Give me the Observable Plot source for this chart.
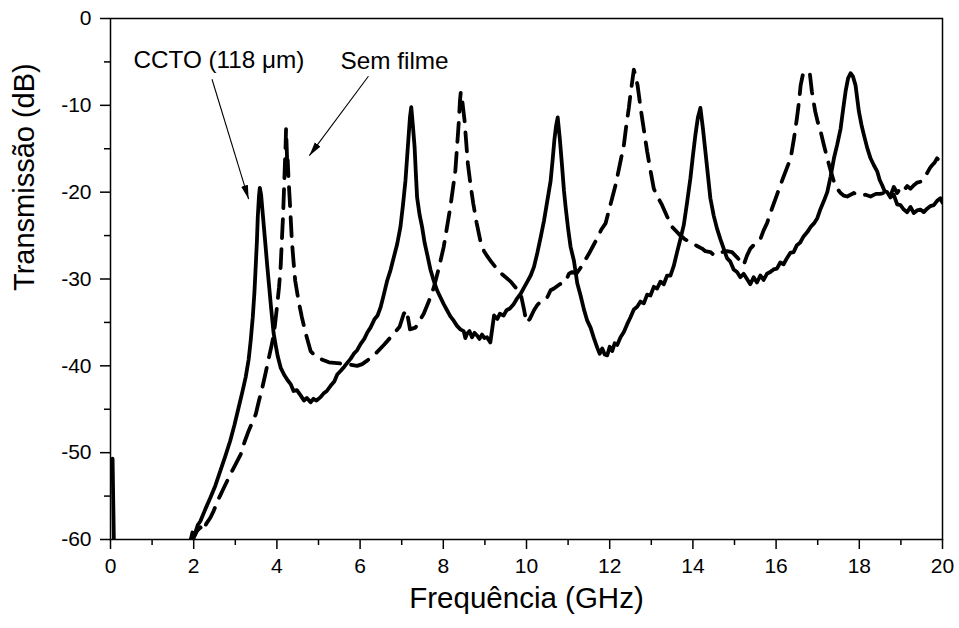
<!DOCTYPE html>
<html><head><meta charset="utf-8">
<script src="https://cdn.jsdelivr.net/npm/d3@7"></script>
<script src="https://cdn.jsdelivr.net/npm/@observablehq/plot@0.6"></script>
<style>body{margin:0;background:#fff}#chart{width:959px;height:628px}</style>
</head><body><div id="chart"></div>
<script>
// CCTO (118 µm) — solid line
const cctoFreq = [0.05,0.09,1.90,1.93,1.97,2.02,2.10,2.16,2.28,2.40,2.52,2.64,2.76,2.88,2.98,3.08,3.17,3.25,3.32,3.37,3.42,3.46,3.49,3.52,3.54,3.57,3.59,3.62,3.66,3.72,3.77,3.82,3.86,3.92,3.97,4.02,4.09,4.17,4.25,4.33,4.40,4.48,4.57,4.65,4.72,4.81,4.88,4.95,5.05,5.12,5.20,5.29,5.38,5.45,5.53,5.62,5.70,5.77,5.85,5.93,6.01,6.10,6.18,6.25,6.35,6.42,6.49,6.57,6.65,6.73,6.81,6.89,6.97,7.03,7.09,7.13,7.17,7.20,7.23,7.27,7.31,7.34,7.37,7.43,7.49,7.55,7.61,7.69,7.77,7.85,7.93,8.01,8.09,8.17,8.25,8.33,8.41,8.49,8.53,8.57,8.63,8.69,8.75,8.81,8.87,8.93,8.99,9.05,9.13,9.18,9.22,9.30,9.36,9.45,9.52,9.60,9.69,9.78,9.86,9.94,10.02,10.10,10.18,10.26,10.34,10.42,10.50,10.58,10.63,10.67,10.71,10.75,10.80,10.85,10.90,10.94,11.00,11.06,11.14,11.22,11.30,11.38,11.46,11.54,11.62,11.70,11.76,11.82,11.88,11.94,12.00,12.06,12.12,12.18,12.26,12.34,12.42,12.50,12.58,12.66,12.74,12.82,12.90,12.98,13.06,13.14,13.22,13.30,13.38,13.46,13.54,13.62,13.70,13.78,13.86,13.94,14.00,14.06,14.12,14.18,14.24,14.30,14.36,14.42,14.50,14.58,14.66,14.74,14.82,14.90,14.98,15.06,15.14,15.22,15.30,15.38,15.46,15.54,15.62,15.70,15.78,15.86,15.94,16.02,16.10,16.18,16.26,16.34,16.42,16.50,16.58,16.66,16.75,16.83,16.91,16.99,17.07,17.15,17.23,17.31,17.39,17.47,17.55,17.61,17.67,17.73,17.79,17.85,17.91,17.95,17.99,18.05,18.11,18.19,18.27,18.35,18.43,18.49,18.55,18.61,18.67,18.75,18.83,18.91,18.99,19.07,19.15,19.23,19.31,19.39,19.47,19.55,19.63,19.71,19.79,19.87,19.95,20.00];
const cctoDb = [-50.7,-63,-63,-60.0,-59.2,-59.5,-58.3,-57.9,-56.5,-55.2,-53.8,-52.1,-50.4,-48.6,-46.8,-44.8,-43.0,-41.3,-39.3,-37.1,-34.4,-31.5,-28.6,-25.6,-22.9,-20.4,-19.5,-20.3,-22.5,-25.8,-28.6,-31.2,-33.3,-36.2,-37.6,-38.9,-40.2,-41.0,-41.6,-42.1,-42.9,-42.8,-43.4,-44.0,-43.7,-44.2,-43.8,-44.0,-43.6,-43.2,-42.9,-42.3,-41.8,-41.0,-40.6,-40.1,-39.6,-39.2,-38.6,-38.2,-37.5,-36.9,-36.1,-35.6,-34.6,-34.2,-33.3,-31.8,-30.2,-29.0,-27.5,-26.0,-24.0,-21.5,-18.7,-16.0,-13.3,-11.3,-10.2,-12.4,-14.8,-17.8,-20.6,-22.6,-24.0,-25.8,-27.1,-28.9,-30.2,-31.3,-32.1,-32.9,-33.6,-34.3,-34.8,-35.4,-35.8,-36.0,-36.8,-36.3,-36.0,-36.7,-36.2,-36.5,-36.9,-36.4,-36.8,-36.7,-37.3,-35.6,-34.2,-34.6,-34.0,-34.2,-33.6,-33.4,-32.9,-32.2,-31.7,-31.0,-30.3,-29.6,-28.6,-27.0,-25.2,-23.3,-21.0,-18.7,-16.2,-14.0,-12.4,-11.4,-13.8,-16.7,-19.8,-21.7,-24.2,-26.3,-27.9,-30.5,-31.9,-33.5,-34.8,-35.6,-36.8,-37.9,-38.6,-38.0,-38.7,-38.8,-37.8,-38.3,-37.4,-37.6,-36.7,-36.1,-35.2,-34.4,-33.5,-33.2,-32.6,-32.8,-31.8,-31.9,-30.9,-31.1,-30.3,-30.6,-29.6,-29.6,-28.5,-26.9,-25.4,-23.8,-21.2,-18.4,-15.8,-13.4,-11.4,-10.3,-12.6,-15.3,-18.0,-20.7,-22.7,-24.2,-25.4,-26.5,-27.6,-28.0,-28.9,-29.2,-29.8,-29.4,-30.0,-30.6,-29.8,-30.4,-29.6,-30.1,-29.4,-29.2,-28.9,-28.8,-28.1,-28.3,-27.6,-27.0,-26.9,-26.1,-25.8,-25.1,-24.6,-24.0,-23.6,-23.0,-21.9,-21.0,-20.0,-18.2,-16.1,-14.5,-12.7,-10.5,-8.4,-6.9,-6.3,-6.7,-7.7,-9.2,-10.7,-12.2,-13.4,-14.9,-16.1,-16.9,-17.6,-18.6,-19.2,-19.9,-20.0,-20.6,-20.3,-21.4,-21.5,-22.0,-22.3,-21.7,-22.4,-22.1,-22.0,-22.3,-21.9,-21.6,-21.5,-21.0,-20.7,-21.2];

// Sem filme — dashed line
const semFreq = [1.98,2.00,2.08,2.16,2.24,2.30,2.40,2.48,2.60,2.74,2.88,3.00,3.13,3.22,3.32,3.40,3.49,3.57,3.65,3.73,3.81,3.87,3.93,4.00,4.05,4.09,4.12,4.15,4.17,4.19,4.21,4.22,4.24,4.25,4.26,4.28,4.31,4.36,4.40,4.44,4.52,4.60,4.70,4.81,4.93,5.05,5.25,5.45,5.69,5.93,6.05,6.17,6.35,6.57,6.81,6.95,7.05,7.12,7.20,7.33,7.43,7.53,7.65,7.77,7.89,8.01,8.09,8.17,8.23,8.29,8.33,8.37,8.40,8.42,8.45,8.48,8.51,8.55,8.59,8.65,8.72,8.80,8.89,8.98,9.06,9.15,9.25,9.40,9.50,9.62,9.74,9.86,9.94,10.00,10.08,10.18,10.26,10.38,10.50,10.58,10.66,10.80,10.94,11.02,11.10,11.20,11.30,11.40,11.50,11.60,11.70,11.80,11.90,12.02,12.14,12.24,12.34,12.40,12.46,12.50,12.54,12.58,12.62,12.67,12.72,12.78,12.84,12.90,12.98,13.06,13.16,13.26,13.38,13.50,13.60,13.70,13.80,13.95,14.10,14.22,14.30,14.42,14.50,14.58,14.70,14.82,14.94,15.08,15.22,15.30,15.38,15.50,15.63,15.70,15.78,15.90,16.02,16.18,16.35,16.43,16.50,16.55,16.59,16.65,16.72,16.81,16.86,16.94,17.00,17.07,17.15,17.23,17.31,17.39,17.47,17.55,17.63,17.71,17.79,17.87,17.95,18.05,18.15,18.27,18.40,18.50,18.59,18.67,18.75,18.83,18.91,18.99,19.07,19.15,19.23,19.31,19.39,19.47,19.55,19.63,19.70,19.75,19.81,19.87,19.93,20.00];
const semDb = [-60.5,-59.8,-59.0,-58.6,-59.0,-58.2,-57.5,-56.7,-55.3,-53.9,-52.5,-51.4,-50.2,-48.8,-47.5,-46.6,-45.6,-44.0,-42.5,-40.8,-39.0,-37.7,-36.3,-33.3,-31.0,-28.6,-25.5,-22.5,-19.8,-17.1,-14.5,-12.7,-15.5,-17.0,-16.3,-18.5,-21.0,-25.6,-28.0,-30.2,-32.5,-34.4,-36.4,-38.3,-38.9,-39.2,-39.6,-39.7,-39.8,-40.0,-39.8,-39.4,-38.7,-37.6,-36.3,-35.5,-34.0,-33.6,-35.8,-35.6,-34.8,-34.0,-32.6,-31.0,-28.8,-26.3,-24.0,-21.7,-19.6,-17.5,-14.8,-12.1,-9.5,-8.5,-9.2,-10.5,-11.7,-14.2,-16.7,-19.0,-21.3,-23.5,-25.6,-26.8,-27.4,-28.0,-28.6,-29.4,-29.8,-30.3,-31.0,-31.7,-33.5,-35.0,-34.6,-33.6,-33.0,-32.4,-32.1,-31.3,-31.1,-30.6,-30.3,-29.4,-29.2,-29.4,-28.7,-27.9,-27.1,-26.2,-25.3,-24.3,-23.6,-21.4,-19.2,-16.9,-14.6,-12.3,-10.3,-8.7,-7.3,-5.9,-6.6,-7.7,-9.5,-11.5,-13.4,-15.3,-17.5,-19.6,-20.6,-21.5,-22.8,-24.0,-24.5,-25.0,-25.4,-25.8,-26.2,-26.5,-26.8,-26.9,-27.2,-26.9,-26.9,-26.8,-26.9,-27.6,-28.4,-27.3,-26.5,-25.9,-25.3,-24.4,-23.6,-21.9,-20.3,-18.2,-16.1,-13.8,-11.5,-9.6,-7.7,-6.3,-6.1,-6.3,-8.4,-10.7,-11.9,-13.0,-14.6,-16.1,-17.5,-18.8,-19.6,-20.1,-20.4,-20.5,-20.3,-20.1,-20.3,-20.4,-20.3,-20.5,-20.2,-20.2,-20.1,-19.8,-20.4,-19.4,-20.1,-19.5,-19.8,-19.3,-19.6,-19.2,-18.9,-18.8,-18.4,-17.8,-17.2,-16.9,-16.6,-16.1,-16.4,-15.7];

// Axis ticks
const xTicks = [0,2,4,6,8,10,12,14,16,18,20];
const xMinorTicks = [1,3,5,7,9,11,13,15,17,19];
const yTicks = [0,-10,-20,-30,-40,-50,-60];
const yMinorTicks = [-5,-15,-25,-35,-45,-55];

// Annotations
const labelText = ["CCTO (118 \u03bcm)", "Sem filme"];
const labelX = [0.55, 5.53];
const labelY = [-4.8, -4.9];
const arrowX1 = [2.44, 6.20];
const arrowY1 = [-7.0, -6.65];
const arrowX2 = [3.32, 4.78];
const arrowY2 = [-20.8, -15.8];

const xTitle = "Frequência (GHz)";
const yTitle = "Transmissão (dB)";

const cctoData = cctoFreq.map((f, i) => ({f, db: cctoDb[i]}));
const semData = semFreq.map((f, i) => ({f, db: semDb[i]}));
const labels = labelText.map((t, i) => ({t, x: labelX[i], y: labelY[i]}));
const arrows = arrowX1.map((x1, i) => ({x1, y1: arrowY1[i], x2: arrowX2[i], y2: arrowY2[i]}));

function filledArrow(color) {
  const m = d3.create("svg:marker")
    .attr("viewBox", "-14 -4 14 8")
    .attr("markerWidth", 14)
    .attr("markerHeight", 8)
    .attr("markerUnits", "userSpaceOnUse")
    .attr("refX", 0).attr("refY", 0)
    .attr("orient", "auto");
  m.append("path").attr("d", "M-14,-3.5L0,0L-14,3.5Z").attr("fill", color).attr("stroke", "none");
  return m.node();
}

function build(marker) {
  const fmt = d => String(d);
  return Plot.plot({
    width: 959, height: 628,
    marginLeft: 110, marginRight: 17, marginTop: 18, marginBottom: 89,
    x: {domain: [0, 20]},
    y: {domain: [-60, 0]},
    style: {fontFamily: "'Liberation Sans', Arial, sans-serif", background: "white", color: "black", overflow: "visible"},
    marks: [
      Plot.line(cctoData, {x: "f", y: "db", stroke: "black", strokeWidth: 3.8, strokeLinejoin: "round", clip: true}),
      Plot.line(semData, {x: "f", y: "db", stroke: "black", strokeWidth: 3.8, strokeDasharray: "19,11", strokeLinejoin: "round", clip: true}),
      Plot.frame({stroke: "black", strokeWidth: 1.5}),
      Plot.axisX(xTicks, {tickSize: 10, tickPadding: 9, fontSize: 21, tickFormat: fmt, strokeWidth: 1.5, label: null}),
      Plot.axisX(xMinorTicks, {tickSize: 6, tickFormat: () => "", strokeWidth: 1.5, label: null}),
      Plot.axisY(yTicks, {tickSize: 10, tickPadding: 9, fontSize: 21, tickFormat: fmt, strokeWidth: 1.5, label: null}),
      Plot.axisY(yMinorTicks, {tickSize: 6, tickFormat: () => "", strokeWidth: 1.5, label: null}),
      Plot.text([xTitle], {frameAnchor: "bottom", dy: 68, text: d => d, fontSize: 29.5}),
      Plot.text([yTitle], {frameAnchor: "left", dx: -85.5, dy: 12, rotate: -90, text: d => d, fontSize: 29}),
      Plot.text(labels, {x: "x", y: "y", text: "t", textAnchor: "start", fontSize: 24.3}),
      Plot.link(arrows, {x1: "x1", y1: "y1", x2: "x2", y2: "y2", stroke: "black", strokeWidth: 1.1, markerEnd: marker})
    ]
  });
}

let chart;
try { chart = build(filledArrow); } catch (e) { chart = build("arrow"); }
document.getElementById("chart").append(chart);
</script>
</body></html>
